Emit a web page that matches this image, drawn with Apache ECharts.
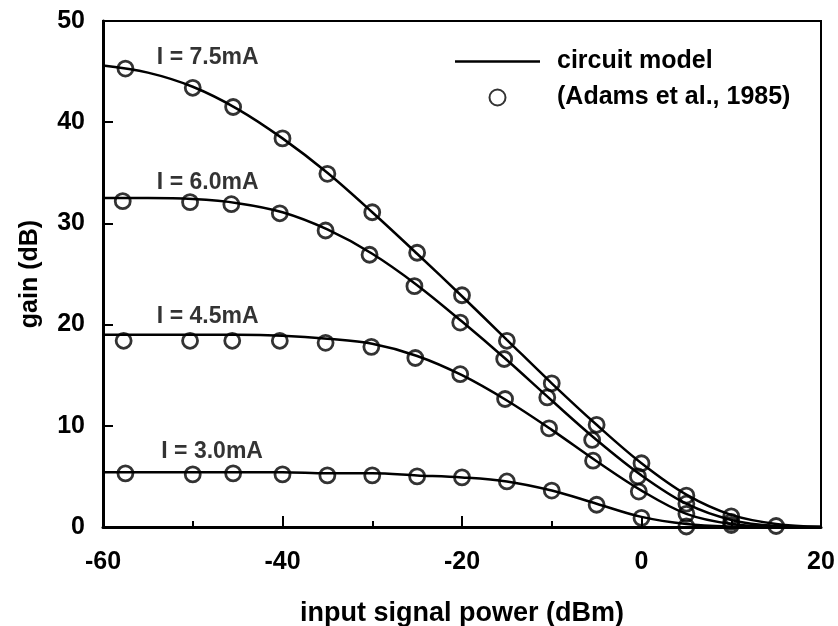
<!DOCTYPE html>
<html>
<head>
<meta charset="utf-8">
<script src="https://cdn.jsdelivr.net/npm/echarts@6/dist/echarts.min.js"></script>
<style>
  html, body { margin: 0; padding: 0; background: #fff; }
  #chart { width: 838px; height: 626px; }
</style>
</head>
<body>
<div id="chart"></div>
<script>
// circuit model curves on a 5 dBm grid
const lineX = [-60, -55, -50, -45, -40, -35, -30, -25, -20, -15, -10, -5, 0, 5, 10, 15, 20];
const model75 = [45.6, 44.9, 43.5, 41.3, 38.4, 35.0, 31.1, 27.0, 22.8, 18.5, 14.2, 10.1, 6.3, 3.2, 1.2, 0.3, 0];
const model60 = [32.5, 32.5, 32.4, 32.0, 31.1, 29.4, 27.0, 23.9, 20.3, 16.5, 12.5, 8.6, 5.1, 2.3, 0.7, 0.1, 0];
const model45 = [19.0, 19.0, 19.0, 19.0, 18.9, 18.6, 18.1, 16.9, 15.0, 12.5, 9.6, 6.5, 3.6, 1.3, 0.3, 0.05, 0];
const model30 = [5.4, 5.4, 5.4, 5.4, 5.4, 5.3, 5.3, 5.1, 4.9, 4.5, 3.6, 2.3, 1.0, 0.3, 0.05, 0, 0];

// measured points (Adams et al., 1985)
const x75 = [-57.5, -50, -45.5, -40, -35, -30, -25, -20, -15, -10, -5, 0, 5, 10, 15];
const gain75 = [45.3, 43.4, 41.5, 38.4, 34.9, 31.1, 27.1, 22.9, 18.4, 14.2, 10.1, 6.3, 3.1, 1.05, 0.1];
const x60 = [-57.8, -50.3, -45.7, -40.3, -35.2, -30.3, -25.3, -20.2, -15.3, -10.5, -5.5, -0.4, 5, 10];
const gain60 = [32.2, 32.1, 31.9, 31.0, 29.3, 26.9, 23.8, 20.2, 16.6, 12.8, 8.6, 5.0, 2.3, 0.5];
const x45 = [-57.7, -50.3, -45.6, -40.3, -35.2, -30.1, -25.2, -20.2, -15.2, -10.3, -5.4, -0.3, 5, 10];
const gain45 = [18.4, 18.4, 18.4, 18.4, 18.2, 17.8, 16.7, 15.1, 12.65, 9.75, 6.55, 3.5, 1.3, 0.2];
const x30 = [-57.5, -50, -45.5, -40, -35, -30, -25, -20, -15, -10, -5, 0, 5];
const gain30 = [5.3, 5.2, 5.3, 5.2, 5.1, 5.1, 5.0, 4.9, 4.5, 3.6, 2.2, 0.9, 0.05];

// curve labels
const curveNames = ['I = 7.5mA', 'I = 6.0mA', 'I = 4.5mA', 'I = 3.0mA'];
const labelX = [-54.0, -54.0, -54.0, -53.5];
const labelY = [46.4, 34.0, 20.8, 7.45];

const xTicks = [-60, -40, -20, 0, 20];
const yTicks = [0, 10, 20, 30, 40, 50];

const MODEL = 'circuit model';
const MEAS = '(Adams et al., 1985)';
const font = "'Liberation Sans', Arial, Helvetica, sans-serif";

const zip = (xs, ys) => xs.map((x, i) => [x, ys[i]]);

function modelSeries(ys) {
  return {
    name: MODEL,
    type: 'line',
    data: zip(lineX, ys),
    smooth: 0.35,
    showSymbol: false,
    symbol: 'none',
    lineStyle: { color: '#000', width: 2.5 },
    itemStyle: { color: '#000' },
    z: 2
  };
}

function measSeries(xs, ys) {
  return {
    name: MEAS,
    type: 'scatter',
    data: zip(xs, ys),
    symbol: 'circle',
    symbolSize: 15,
    itemStyle: { color: 'rgba(255,255,255,0)', borderColor: '#000', borderWidth: 2.8 },
    z: 3
  };
}

let myChart = echarts.init(document.getElementById('chart'));
myChart.setOption({
  animation: false,
  backgroundColor: '#fff',
  textStyle: { fontFamily: font },
  grid: {
    left: 103, right: 17, top: 21, bottom: 99,
    outerBoundsMode: 'none',
    show: true, borderColor: '#000', borderWidth: 2
  },
  legend: {
    orient: 'vertical',
    left: 455,
    top: 49,
    padding: 0,
    itemWidth: 85,
    itemHeight: 16,
    itemGap: 11,
    data: [
      { name: MODEL, icon: 'path://M0,0H34V1H0Z' },
      { name: MEAS, icon: 'circle' }
    ],
    textStyle: {
      fontFamily: font, fontSize: 25, fontWeight: 'bold', color: '#000',
      lineHeight: 25, padding: [0, 0, 0, 12]
    },
    selectedMode: false
  },
  xAxis: {
    type: 'value',
    min: -60, max: 20, interval: 20,
    name: 'input signal power (dBm)',
    nameLocation: 'middle',
    nameGap: 73,
    nameTextStyle: { fontFamily: font, fontSize: 27, fontWeight: 'bold', color: '#000' },
    axisLine: { onZero: false, lineStyle: { color: '#000', width: 3 } },
    axisTick: { inside: true, length: 11, lineStyle: { color: '#000', width: 2 } },
    minorTick: { show: true, splitNumber: 2, length: 6, lineStyle: { color: '#000', width: 2 } },
    axisLabel: {
      margin: 23, fontFamily: font, fontSize: 25, fontWeight: 'bold', color: '#000',
      formatter: v => xTicks.includes(v) ? String(v) : ''
    },
    splitLine: { show: false }
  },
  yAxis: {
    type: 'value',
    min: 0, max: 50, interval: 10,
    name: 'gain (dB)',
    nameLocation: 'middle',
    nameGap: 60,
    nameTextStyle: { fontFamily: font, fontSize: 25, fontWeight: 'bold', color: '#000' },
    axisLine: { onZero: false, lineStyle: { color: '#000', width: 3 } },
    axisTick: { inside: true, length: 10, lineStyle: { color: '#000', width: 2 } },
    axisLabel: {
      margin: 18, fontFamily: font, fontSize: 25, fontWeight: 'bold', color: '#000',
      formatter: v => yTicks.includes(v) ? String(v) : ''
    },
    splitLine: { show: false }
  },
  series: [
    modelSeries(model75),
    modelSeries(model60),
    modelSeries(model45),
    modelSeries(model30),
    measSeries(x75, gain75),
    measSeries(x60, gain60),
    measSeries(x45, gain45),
    measSeries(x30, gain30),
    {
      name: 'labels',
      type: 'scatter',
      symbolSize: 0,
      silent: true,
      data: labelX.map((x, i) => ({ value: [x, labelY[i]], name: curveNames[i] })),
      label: {
        show: true, position: 'right', distance: 0,
        formatter: p => p.name,
        fontFamily: font, fontSize: 23, fontWeight: 'bold', color: '#000'
      }
    }
  ]
});
</script>
</body>
</html>
